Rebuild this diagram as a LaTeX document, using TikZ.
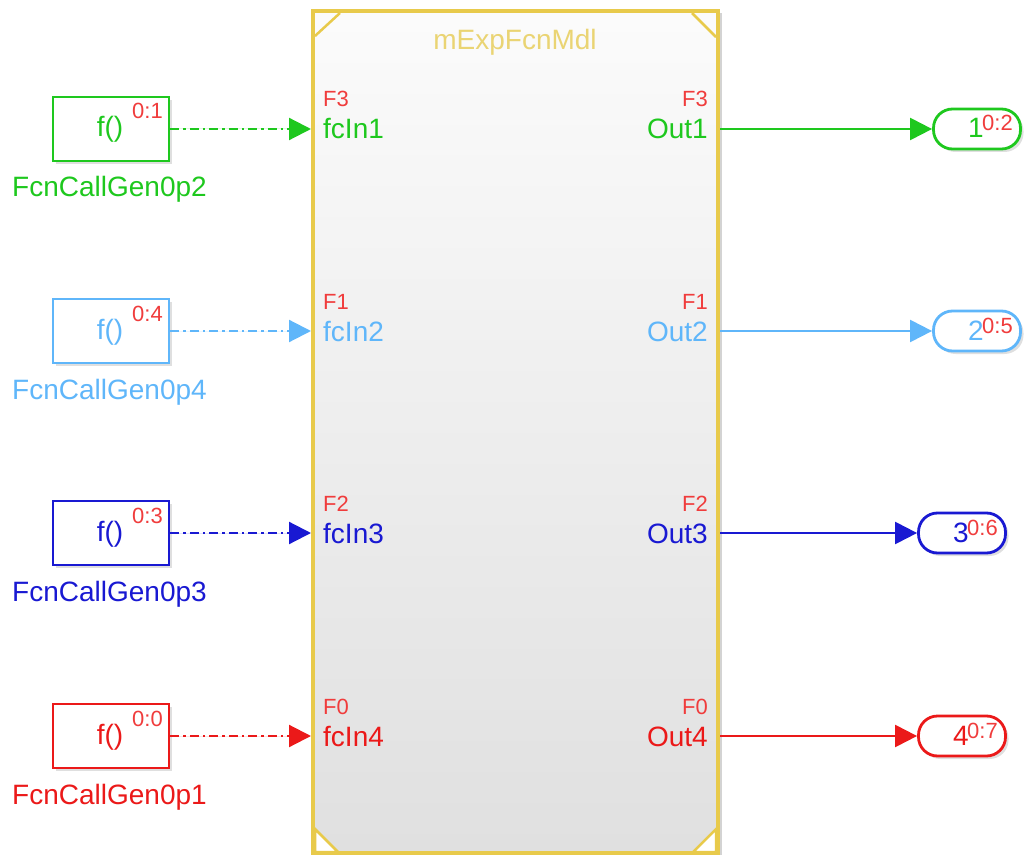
\documentclass[tikz,border=0pt]{standalone}
\usepackage{fontspec}
\setmainfont{Liberation Sans}
\usetikzlibrary{arrows.meta,shadows}
\definecolor{cgreen}{RGB}{30,200,30}
\definecolor{clblue}{RGB}{95,182,250}
\definecolor{cblue}{RGB}{25,25,210}
\definecolor{cred}{RGB}{235,25,25}
\definecolor{csup}{RGB}{240,60,60}
\definecolor{cyellow}{RGB}{232,202,75}
\definecolor{ctitle}{RGB}{234,212,115}
\pgfdeclareverticalshading{mshade}{100bp}{color(0bp)=(black!16); color(12bp)=(black!15); color(82bp)=(white); color(100bp)=(white)}
\tikzset{
  big/.style={font=\fontsize{28}{30}\selectfont, inner sep=0},
  small/.style={font=\fontsize{22}{24}\selectfont, inner sep=0, text=csup},
  gen/.style={draw, line width=2.8, fill=white, minimum width=116, minimum height=64, inner sep=0,
    drop shadow={shadow xshift=3pt, shadow yshift=-3pt, opacity=0.25}},
  outp/.style={draw, line width=2.8, fill=white, rounded corners=19, minimum width=87, minimum height=40, inner sep=0,
    drop shadow={shadow xshift=3pt, shadow yshift=-3pt, opacity=0.25}},
  sig/.style={line width=2.2, -{Triangle[length=22,width=22]}},
  fcsig/.style={sig, dash pattern=on 9pt off 4pt on 2.5pt off 4pt},
}
\begin{document}
\begin{tikzpicture}[x=1pt,y=-1pt]
\useasboundingbox (0,0) rectangle (1024,858);
% main block
\node[draw=cyellow, line width=4, shading=mshade, minimum width=405, minimum height=842, inner sep=0,
  drop shadow={shadow xshift=4pt, shadow yshift=-2pt, opacity=0.35}] (M) at (515.5,432) {};
\draw[cyellow, line width=2.5] (315,36) -- (340,13);
\draw[cyellow, line width=2.5] (692,13) -- (716,37);
\filldraw[fill=white, draw=cyellow, line width=2.5] (315,829) -- (315,852) -- (338,852) -- cycle;
\filldraw[fill=white, draw=cyellow, line width=2.5] (716,829) -- (716,852) -- (693,852) -- cycle;
\node[big, text=ctitle, anchor=base] (title) at (515,50) {mExpFcnMdl};
\foreach \i/\L/\col/\F/\gs/\gn/\o/\os/\ox in {
  1/129/cgreen/F3/0:1/FcnCallGen0p2/1/0:2/977,
  2/331/clblue/F1/0:4/FcnCallGen0p4/2/0:5/977,
  3/533/cblue/F2/0:3/FcnCallGen0p3/3/0:6/962,
  4/736/cred/F0/0:0/FcnCallGen0p1/4/0:7/962}{
  % ports of main block
  \node[small, anchor=base west] (fi\i) at (323,\L-22) {\F};
  \node[big, anchor=base west, text=\col] (pi\i) at (323,\L+10) {fcIn\i};
  \node[small, anchor=base east] (fo\i) at (708,\L-22) {\F};
  \node[big, anchor=base east, text=\col] (po\i) at (708,\L+10) {Out\i};
  % generator block
  \node[gen, draw=\col] (g\i) at (111,\L) {};
  \node[big, text=\col, anchor=base] (gt\i) at (110,\L+8) {f()};
  \node[small, anchor=base east] (gs\i) at (163,\L-10) {\gs};
  \node[big, text=\col, anchor=base west] (gl\i) at (12,\L+68) {\gn};
  % outport
  \node[outp, draw=\col] (o\i) at (\ox,\L) {};
  \node[big, text=\col, anchor=base] (on\i) at (\ox-1,\L+9) {\o};
  \node[small, anchor=base west] (os\i) at (\ox+5,\L+2) {\os};
  % connectors
  \draw[fcsig, draw=\col, fill=\col] (g\i.east) -- (g\i.east -| M.west);
  \draw[sig, draw=\col, fill=\col] (M.east |- o\i.west) -- (o\i.west);
}
\end{tikzpicture}
\end{document}
